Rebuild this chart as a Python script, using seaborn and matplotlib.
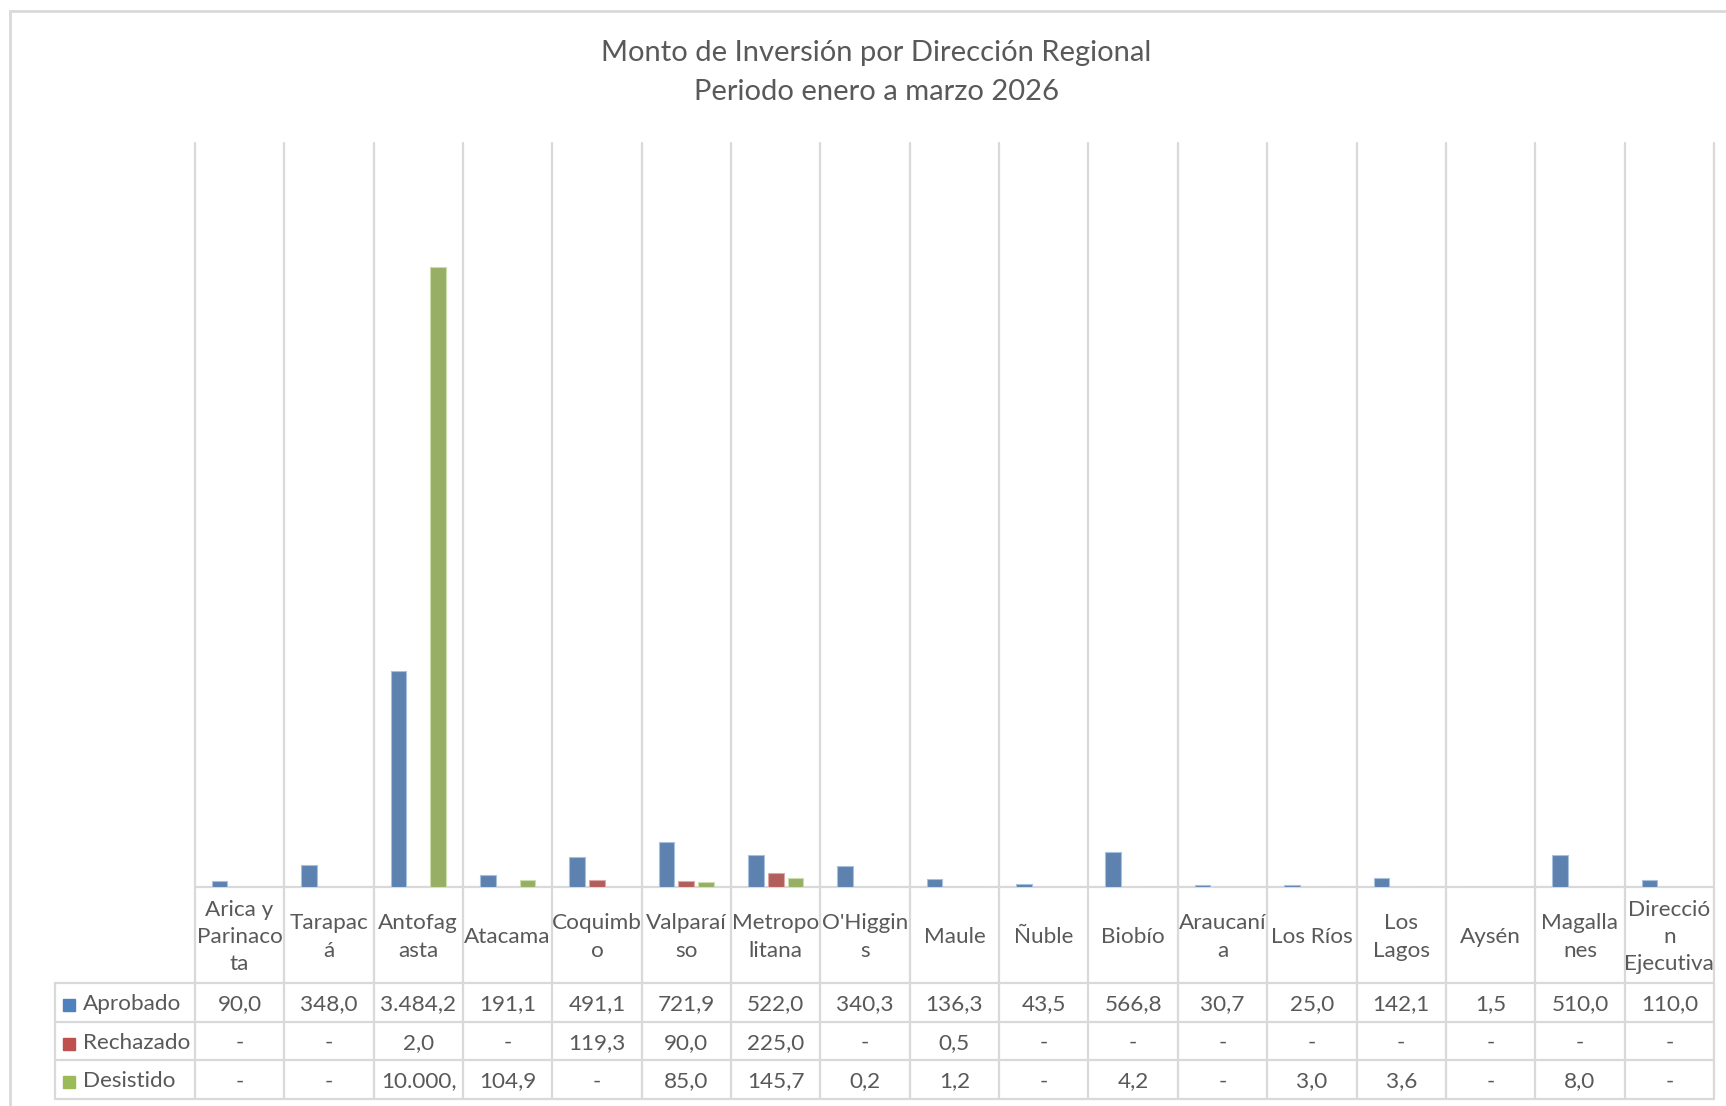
import numpy as np
import pandas as pd
import seaborn as sns
import matplotlib.pyplot as plt
from matplotlib.patches import Rectangle

# datos (millones), "-" en la tabla = sin valor
regiones = ["Arica y Parinacota", "Tarapacá", "Antofagasta", "Atacama", "Coquimbo",
            "Valparaíso", "Metropolitana", "O'Higgins", "Maule", "Ñuble", "Biobío",
            "Araucanía", "Los Ríos", "Los Lagos", "Aysén", "Magallanes",
            "Dirección Ejecutiva"]
# cortes de línea tal como aparecen en la tabla del gráfico
etiquetas = ["Arica y\nParinaco\nta", "Tarapac\ná", "Antofag\nasta", "Atacama",
             "Coquimb\no", "Valparaí\nso", "Metropo\nlitana", "O'Higgin\ns", "Maule",
             "Ñuble", "Biobío", "Araucaní\na", "Los Ríos", "Los\nLagos", "Aysén",
             "Magalla\nnes", "Direcció\nn\nEjecutiva"]
estados = ["Aprobado", "Rechazado", "Desistido"]
aprobado = [90.0, 348.0, 3484.2, 191.1, 491.1, 721.9, 522.0, 340.3, 136.3, 43.5,
            566.8, 30.7, 25.0, 142.1, 1.5, 510.0, 110.0]
rechazado = [np.nan, np.nan, 2.0, np.nan, 119.3, 90.0, 225.0, np.nan, 0.5, np.nan,
             np.nan, np.nan, np.nan, np.nan, np.nan, np.nan, np.nan]
desistido = [np.nan, np.nan, 10000.0, 104.9, np.nan, 85.0, 145.7, 0.2, 1.2, np.nan,
             4.2, np.nan, 3.0, 3.6, np.nan, 8.0, np.nan]
colores = ["#4F81BD", "#C0504D", "#9BBB59"]
bordes = ["#A7C0DE", "#DFA8A6", "#CDDDAC"]

df = pd.DataFrame({
    "Región": regiones * 3,
    "Estado": np.repeat(estados, len(regiones)),
    "Monto": aprobado + rechazado + desistido,
})

sns.set_theme(style="white")
plt.rcParams["font.family"] = ["Lato", "DejaVu Sans"]
GRIS_TXT = "#595959"
GRIS_LIN = "#D9D9D9"

W, H = 1726, 1106
fig = plt.figure(figsize=(W / 100, H / 100), dpi=100)
AX_L, AX_R, AX_T, AX_B = 194.8, 1714.0, 143.0, 887.0
ax = fig.add_axes([AX_L / W, 1 - AX_B / H, (AX_R - AX_L) / W, (AX_B - AX_T) / H])


def fx(px):
    return (px - AX_L) / (AX_R - AX_L)


def fy(py):
    return (AX_B - py) / (AX_B - AX_T)


sns.barplot(data=df, x="Región", y="Monto", hue="Estado", order=regiones,
            hue_order=estados, palette=colores, width=0.666, gap=0.21,
            errorbar=None, legend=False, ax=ax)
for cont, borde in zip(ax.containers, bordes):
    for bar in cont:
        bar.set_edgecolor(borde)
        bar.set_linewidth(0.8)

n = len(regiones)
ax.set_xlim(-0.5, n - 0.5)
ax.set_ylim(0, 12000)
ax.set_xticks([])
ax.set_yticks([])
ax.set_xlabel("")
ax.set_ylabel("")
for s in ax.spines.values():
    s.set_visible(False)

# líneas de cuadrícula y tabla
filas_y = [983.0, 1021.5, 1060.0, 1098.6]
LEG_L = 55.0
kw = dict(transform=ax.transAxes, clip_on=False, color=GRIS_LIN, lw=1.6, zorder=0)
for i in range(n + 1):
    ax.plot([i / n, i / n], [1, fy(filas_y[-1])], **kw)
ax.plot([0, 1], [0, 0], **kw)
for yp in filas_y:
    ax.plot([fx(LEG_L), 1], [fy(yp), fy(yp)], **kw)
ax.plot([fx(LEG_L), fx(LEG_L)], [fy(filas_y[0]), fy(filas_y[-1])], **kw)

# encabezado de categorías
fs = 16.2
for i, et in enumerate(etiquetas):
    ax.text((i + 0.5) / n, fy((AX_B + filas_y[0]) / 2 + 2), et, transform=ax.transAxes,
            ha="center", va="center", fontsize=fs, color=GRIS_TXT,
            linespacing=1.45)


def formato(v):
    if np.isnan(v):
        return "-"
    s = f"{v:,.1f}".replace(",", "X").replace(".", ",").replace("X", ".")
    return s[:7]  # la celda corta el texto largo


series = [aprobado, rechazado, desistido]
for r, (nombre, vals, col) in enumerate(zip(estados, series, colores)):
    yc = fy((filas_y[r] + filas_y[r + 1]) / 2 + 2)
    ax.add_patch(Rectangle((fx(63), yc - 7 / (AX_B - AX_T)), 12 / (AX_R - AX_L),
                           12 / (AX_B - AX_T), transform=ax.transAxes,
                           clip_on=False, color=col))
    ax.text(fx(83), yc, nombre, transform=ax.transAxes, ha="left", va="center",
            fontsize=fs, color=GRIS_TXT)
    for i, v in enumerate(vals):
        txt = formato(v)
        if len(txt) >= 7 and "." in txt and txt.endswith(","):
            ax.text(i / n + 8 / (AX_R - AX_L), yc, txt, transform=ax.transAxes,
                    ha="left", va="center", fontsize=fs, color=GRIS_TXT)
        else:
            ax.text((i + 0.5) / n, yc, txt, transform=ax.transAxes, ha="center",
                    va="center", fontsize=fs, color=GRIS_TXT)

# título
fig.text(876 / W, 1 - 53 / H, "Monto de Inversión por Dirección Regional",
         ha="center", va="center", fontsize=21, color=GRIS_TXT)
fig.text(876 / W, 1 - 92 / H, "Periodo enero a marzo 2026",
         ha="center", va="center", fontsize=21, color=GRIS_TXT)

# marco exterior del gráfico
fig.patches.append(Rectangle((10 / W, -0.05), 1.1, 1 - 11 / H + 0.05,
                             transform=fig.transFigure, fill=False,
                             edgecolor=GRIS_LIN, lw=2))

fig.savefig("out.png", dpi=100, facecolor="white")
